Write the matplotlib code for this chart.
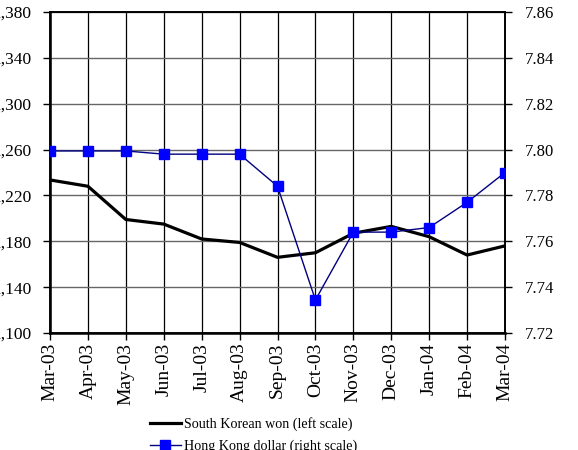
import numpy as np
import matplotlib.pyplot as plt

plt.rcParams['font.family'] = ['Liberation Serif', 'DejaVu Serif']

months = ["Mar-03", "Apr-03", "May-03", "Jun-03", "Jul-03", "Aug-03", "Sep-03",
          "Oct-03", "Nov-03", "Dec-03", "Jan-04", "Feb-04", "Mar-04"]
krw = [1233.5, 1228, 1199, 1195, 1182, 1179, 1166, 1170, 1187, 1193, 1184, 1168, 1176]
hkd = [7.7994, 7.7994, 7.7994, 7.798, 7.798, 7.798, 7.784, 7.7344, 7.764, 7.764,
       7.766, 7.777, 7.790]

left_ticks = np.arange(1100, 1381, 40)
right_ticks = np.arange(7.72, 7.861, 0.02)

fig = plt.figure(figsize=(5.78, 4.5), dpi=100)
ax1 = fig.add_axes([50/578, 1 - 333/450, 455/578, 321/450])
ax2 = ax1.twinx()

x = np.arange(len(months))
p1, = ax1.plot(x, krw, color='black', lw=2.3, zorder=3)
p2, = ax2.plot(x, hkd, color='#000080', lw=1.0, marker='s', ms=7,
               mfc='#0000ff', mec='#0000ff', zorder=3)

ax1.set_xlim(0, len(months) - 1)
ax1.set_ylim(1100, 1380)
ax2.set_ylim(7.72, 7.86)
ax1.set_yticks(left_ticks)
ax1.set_yticklabels(["{:,}".format(v) for v in left_ticks])
ax2.set_yticks(right_ticks)
ax2.set_yticklabels(["%.2f" % v for v in right_ticks])
ax1.set_xticks(x)
ax1.set_xticklabels(months, rotation=90)

for v in x:
    ax1.axvline(v, color='black', lw=0.9, zorder=1)
for v in left_ticks:
    ax1.axhline(v, color='#666666', lw=1.0, zorder=1)

for ax in (ax1, ax2):
    for s in ax.spines.values():
        s.set_linewidth(1.2)
        s.set_color('black')
ax1.spines['bottom'].set_linewidth(1.8)
ax1.spines['left'].set_linewidth(1.8)

ax1.tick_params(axis='y', direction='out', length=5, width=1, pad=8, labelsize=12.5)
ax2.tick_params(axis='y', direction='out', length=5, width=1, pad=9, labelsize=12)
ax1.tick_params(axis='x', direction='out', length=5, width=1, pad=2, labelsize=14)

fig.legend(handles=[p1, p2],
           labels=["South Korean won (left scale)", "Hong Kong dollar (right scale)"],
           loc='upper left', bbox_to_anchor=(150/578, 1 - 417/450),
           frameon=False, fontsize=10.1, handlelength=2.2, handletextpad=0.2,
           labelspacing=0.6, borderpad=0, borderaxespad=0)

fig.savefig("out.png", dpi=100)
